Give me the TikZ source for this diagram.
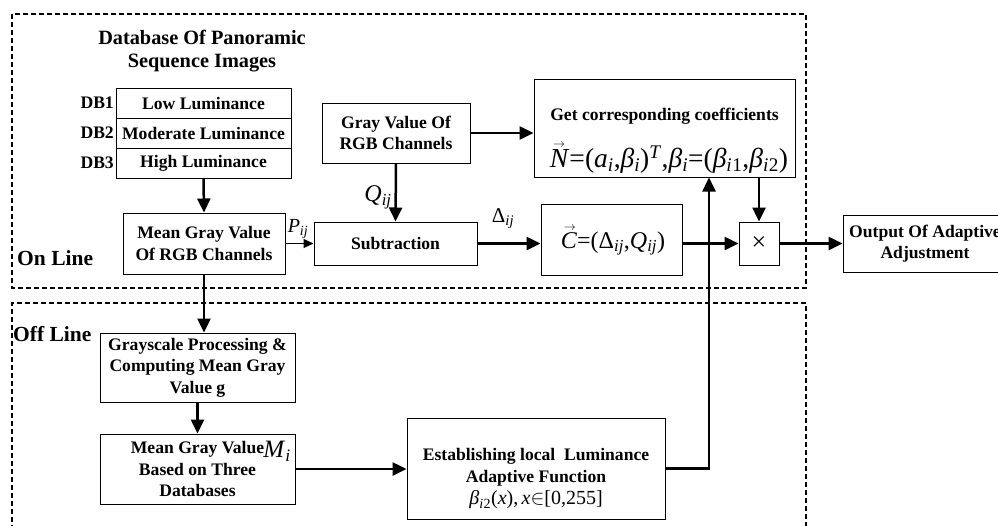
\documentclass[tikz,border=0pt]{standalone}
\usepackage{fontspec}
\setmainfont{Liberation Serif}
\usetikzlibrary{arrows.meta,calc}
\newcommand{\sbi}[1]{\textsubscript{\textit{#1}}}
\newcommand{\varr}[1]{\leavevmode\rlap{\hspace{0.12em}\raisebox{0.72em}{\fontsize{12}{12}\selectfont$\rightarrow$}}#1}
\begin{document}
\begin{tikzpicture}[x=1pt,y=-1pt,
  box/.style={draw,line width=1pt,align=center,inner sep=0pt,font=\bfseries\fontsize{17.6}{21.5}\selectfont},
  lbl/.style={inner sep=0pt,align=center,font=\bfseries\fontsize{17.6}{21.5}\selectfont},
  mlbl/.style={inner sep=0pt,font=\fontsize{22}{24}\selectfont},
  flow/.style={line width=2.5pt,-{Triangle[length=14pt,width=13pt]}},
  thinflow/.style={line width=1pt,-{Triangle[length=10pt,width=9pt]}},
  region/.style={line width=2pt,dash pattern=on 5pt off 3pt}]
\useasboundingbox (0,0) rectangle (998,525);
\clip (0,0) rectangle (998,525);
% regions
\draw[region] (12,14) rectangle (806,288);
\draw[region] (12,530) -- (12,303) -- (806,303) -- (806,530);
\node[lbl,anchor=west,font=\bfseries\fontsize{21.5}{24}\selectfont] (online) at (17,258) {On Line};
\node[lbl,anchor=west,font=\bfseries\fontsize{21.5}{24}\selectfont] (offline) at (13,334) {Off Line};
% database
\node[lbl,font=\bfseries\fontsize{20.3}{23}\selectfont] (head) at (202,51) {Database Of Panoramic\\Sequence Images};
\node[box,minimum width=175pt,minimum height=30pt] (db1) at (203.5,103) {Low Luminance};
\node[box,minimum width=175pt,minimum height=30pt] (db2) at (203.5,133) {Moderate Luminance};
\node[box,minimum width=175pt,minimum height=30pt] (db3) at (203.5,163) {High Luminance};
\node[lbl,anchor=east] (l1) at (114,103) {DB1};
\node[lbl,anchor=east] (l2) at (114,133) {DB2};
\node[lbl,anchor=east] (l3) at (114,163) {DB3};
% on line boxes
\node[box,minimum width=162pt,minimum height=61pt] (mg) at (204,243.5) {Mean Gray Value\\Of RGB Channels};
\node[box,minimum width=148pt,minimum height=60pt] (gv) at (396,133) {Gray Value Of\\RGB Channels};
\node[box,minimum width=163pt,minimum height=43pt] (sub) at (395.5,243.5) {Subtraction};
\node[box,minimum width=261pt,minimum height=98pt] (get) at (664.5,128) {};
\node[lbl] (gett) at (664.5,116) {Get corresponding coefficients};
\node[inner sep=0pt,font=\fontsize{27.5}{30}\selectfont] (getf) at (669,158)
  {\varr{\textit{N}}=(\textit{a}\sbi{i},\textit{β}\sbi{i})\textsuperscript{\textit{T}},\textit{β}\sbi{i}=(\textit{β}\sbi{i}\textsubscript{1},\textit{β}\sbi{i}\textsubscript{2})};
\node[box,minimum width=141pt,minimum height=71pt] (cbox) at (611.5,239.5) {};
\node[inner sep=0pt,font=\fontsize{24}{28}\selectfont] (cf) at (613,241)
  {\varr{\textit{C}}=(Δ\sbi{ij},\textit{Q}\sbi{ij})};
\node[box,minimum width=40pt,minimum height=43pt,font=\fontsize{26}{26}\selectfont] (times) at (759,243.5) {×};
\node[box,minimum width=164pt,minimum height=57pt] (out) at (925,243.5) {Output Of Adaptive\\Adjustment};
% off line boxes
\node[box,minimum width=195pt,minimum height=69pt] (gs) at (197.5,367.5) {Grayscale Processing \&\\Computing Mean Gray\\Value g};
\node[box,minimum width=195pt,minimum height=70pt] (mv) at (197.5,469) {Mean Gray Value\\Based on Three\\Databases};
\node[box,minimum width=258pt,minimum height=101pt] (est) at (536,468.5) {};
\node[lbl] (estt) at (536,479) {Establishing local\ \ Luminance\\Adaptive Function\\[1pt]\mdseries\fontsize{20}{21.5}\selectfont\textit{β}\sbi{i}\textsubscript{2}(\textit{x}),\,\textit{x}$\in$[0,255]};
% labels
\node[mlbl,font=\fontsize{20}{22}\selectfont] (plbl) at (298,229) {\textit{P}\sbi{ij}};
\node[mlbl,font=\fontsize{24}{26}\selectfont] (qlbl) at (378,197) {\textit{Q}\sbi{ij}};
\node[mlbl,font=\fontsize{21}{23}\selectfont] (dlbl) at (503,219) {Δ\sbi{ij}};
\node[mlbl,font=\fontsize{25}{27}\selectfont] (mlbl) at (277,451) {\textit{M}\sbi{i}};
% connectors
\draw[flow] (db3.south) -- (mg.north);
\draw[thinflow] (mg.east) -- (sub.west);
\draw[flow] (gv.south) -- (sub.north);
\draw[flow] (gv.east) -- (gv.east -| get.west);
\draw[flow] (sub.east) -- (sub.east -| cbox.west);
\draw[flow] (times.west -| cbox.east) -- (times.west);
\draw[flow] (times.north |- get.south) -- (times.north);
\draw[flow] (times.east) -- (out.west);
\draw[flow] (mg.south) -- (mg.south |- gs.north);
\draw[flow] (gs.south) -- (mv.north);
\draw[flow] (mv.east) -- (mv.east -| est.west);
\coordinate (up) at ([xshift=44.5pt]get.south);
\draw[flow] (est.east) -| (up);
\end{tikzpicture}
\end{document}
